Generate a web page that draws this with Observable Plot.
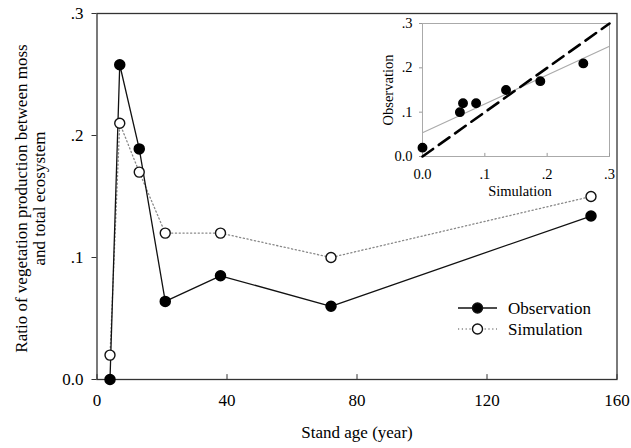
<!DOCTYPE html>
<html>
<head>
<meta charset="utf-8">
<script src="https://cdn.jsdelivr.net/npm/d3@7"></script>
<script src="https://cdn.jsdelivr.net/npm/@observablehq/plot@0.6"></script>
<style>
  html, body { margin: 0; padding: 0; background: white; }
  #wrap { position: relative; width: 631px; height: 448px; font-family: "Liberation Serif", serif; }
  #wrap svg { position: absolute; }
</style>
</head>
<body>
<div id="wrap"></div>
<script>
// ---- main chart data ----
const standAge = [4, 7, 13, 21, 38, 72, 152];
const observation = [0.0, 0.258, 0.189, 0.064, 0.085, 0.060, 0.134];
const simulation = [0.02, 0.21, 0.17, 0.12, 0.12, 0.10, 0.15];
const xTicks = [0, 40, 80, 120, 160];
const yTicks = [0, 0.1, 0.2, 0.3];
const yTickLabels = ["0.0", ".1", ".2", ".3"];
const seriesNames = ["Observation", "Simulation"];
const xTitle = "Stand age (year)";
const yTitle = "Ratio of vegetation production between moss\nand total ecosystem";

// ---- inset data ----
const insetSimulation = [0.0, 0.060, 0.065, 0.086, 0.134, 0.189, 0.258];
const insetObservation = [0.02, 0.10, 0.12, 0.12, 0.15, 0.17, 0.21];
const insetTicks = [0, 0.1, 0.2, 0.3];
const insetTickLabels = ["0.0", ".1", ".2", ".3"];
const insetXTitle = "Simulation";
const insetYTitle = "Observation";

const font = "Liberation Serif";
const mainRows = standAge.map((a, i) => ({age: a, obs: observation[i], sim: simulation[i]}));
const yLab = new Map(yTicks.map((t, i) => [t, yTickLabels[i]]));
const iLab = new Map(insetTicks.map((t, i) => [t, insetTickLabels[i]]));

const main = Plot.plot({
  width: 631, height: 448,
  marginLeft: 96.5, marginRight: 14.5, marginTop: 13, marginBottom: 69,
  style: {fontFamily: font, fontSize: "17px", color: "#000", background: "white"},
  x: {domain: [0, 160]},
  y: {domain: [0, 0.3]},
  marks: [
    Plot.axisY({ticks: yTicks, tickFormat: d => yLab.get(d), tickSize: 5, tickPadding: 8.5, label: null, fontSize: 17, stroke: "#333"}),
    Plot.axisX({ticks: xTicks, tickFormat: d => String(d), tickSize: 0, tickPadding: 14, label: null, fontSize: 17}),
    Plot.ruleX(xTicks, {x: d => d, y1: 0, y2: 0.004, stroke: "#333"}),
    Plot.frame({stroke: "#333", strokeWidth: 1.3}),
    Plot.line(mainRows, {x: "age", y: "sim", stroke: "#888", strokeWidth: 1.3, strokeDasharray: "1.2,2.6"}),
    Plot.line(mainRows, {x: "age", y: "obs", stroke: "#111", strokeWidth: 1.3}),
    Plot.dot(mainRows, {x: "age", y: "sim", r: 5, fill: "white", stroke: "#111", strokeWidth: 1.4}),
    Plot.dot(mainRows, {x: "age", y: "obs", r: 5, fill: "#000", stroke: "#000"}),
    Plot.text([xTitle], {text: d => d, frameAnchor: "bottom", dy: 58, fontSize: 17, fill: "#000"}),
    Plot.text([yTitle], {text: d => d, frameAnchor: "left", textAnchor: "middle", rotate: -90, dx: -67, dy: 2, lineHeight: 1.06, fontSize: 17, fill: "#000"})
  ]
});
main.style.left = "0px"; main.style.top = "0px";
document.getElementById("wrap").appendChild(main);

// regression of inset observation on simulation (drawn across the inset domain)
const mx = d3.mean(insetSimulation), my = d3.mean(insetObservation);
const slope = d3.sum(insetSimulation, (x, i) => (x - mx) * (insetObservation[i] - my)) / d3.sum(insetSimulation, x => (x - mx) ** 2);
const intercept = my - slope * mx;
const insetDomain = [insetTicks[0], insetTicks[insetTicks.length - 1]];
const regRows = insetDomain.map(x => ({x, y: intercept + slope * x}));
const oneRows = insetDomain.map(x => ({x, y: x}));
const insetRows = insetSimulation.map((s, i) => ({sim: s, obs: insetObservation[i]}));

const inset = Plot.plot({
  width: 260, height: 205,
  marginLeft: 62, marginRight: 11, marginTop: 23, marginBottom: 49,
  style: {fontFamily: font, fontSize: "14.5px", color: "#000", background: "transparent", overflow: "visible"},
  x: {domain: insetDomain},
  y: {domain: insetDomain},
  marks: [
    Plot.frame({stroke: "#aaa", strokeWidth: 1}),
    Plot.axisY({ticks: insetTicks, tickFormat: d => iLab.get(d), tickSize: 3, tickPadding: 7, label: null, fontSize: 14.5, stroke: "#999"}),
    Plot.axisX({ticks: insetTicks, tickFormat: d => iLab.get(d), tickSize: 0, tickPadding: 12, label: null, fontSize: 14.5}),
    Plot.ruleX(insetTicks, {x: d => d, y1: 0, y2: 0.007, stroke: "#999"}),
    Plot.line(regRows, {x: "x", y: "y", stroke: "#aaa", strokeWidth: 1.1}),
    Plot.line(oneRows, {x: "x", y: "y", stroke: "#000", strokeWidth: 2.6, strokeDasharray: "13,7"}),
    Plot.dot(insetRows, {x: "sim", y: "obs", r: 4.2, fill: "#000", stroke: "#000"}),
    Plot.text([insetXTitle], {text: d => d, frameAnchor: "bottom", dx: 4, dy: 39, fontSize: 14.5, fill: "#000"}),
    Plot.text([insetYTitle], {text: d => d, frameAnchor: "left", textAnchor: "middle", rotate: -90, dx: -34, fontSize: 14.5, fill: "#000"})
  ]
});
inset.style.left = "360px"; inset.style.top = "0px";
document.getElementById("wrap").appendChild(inset);

// legend
const leg = d3.create("svg").attr("width", 631).attr("height", 448)
  .style("left", "0px").style("top", "0px").style("pointer-events", "none");
const legY = [308, 329];
seriesNames.forEach((name, i) => {
  const g = leg.append("g");
  g.append("line").attr("x1", 458).attr("x2", 497).attr("y1", legY[i]).attr("y2", legY[i])
    .attr("stroke", i === 0 ? "#111" : "#888").attr("stroke-width", 1.3)
    .attr("stroke-dasharray", i === 0 ? null : "1.2,2.6");
  g.append("circle").attr("cx", 477.5).attr("cy", legY[i]).attr("r", 5)
    .attr("fill", i === 0 ? "#000" : "white").attr("stroke", "#111").attr("stroke-width", 1.4);
  g.append("text").attr("x", 508).attr("y", legY[i]).attr("dy", "0.35em")
    .attr("font-family", font).attr("font-size", 17).attr("fill", "#000").text(name);
});
document.getElementById("wrap").appendChild(leg.node());
</script>
</body>
</html>
